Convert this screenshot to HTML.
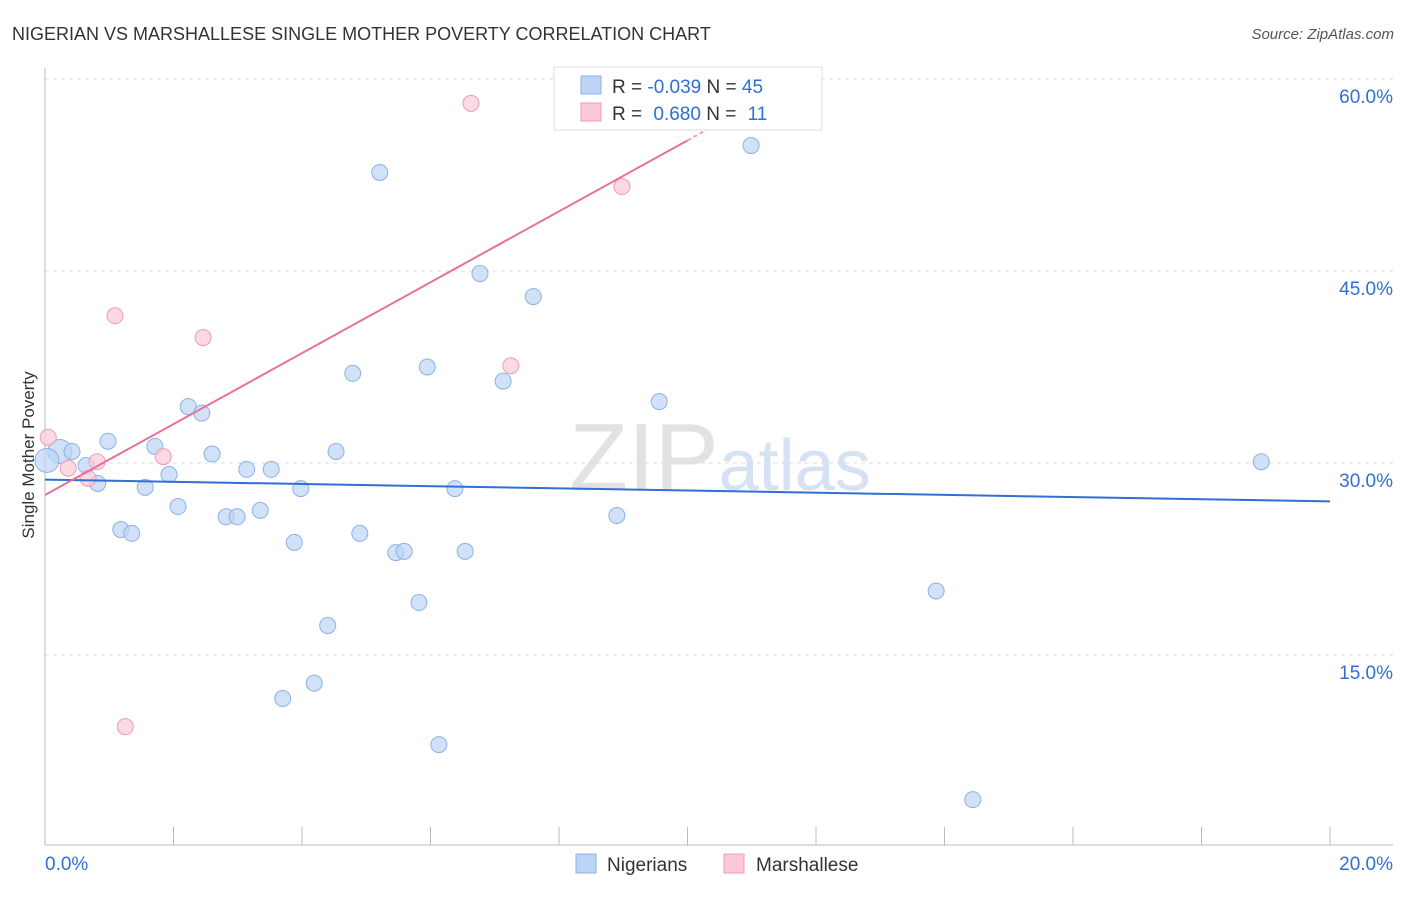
<!DOCTYPE html>
<html><head><meta charset="utf-8"><style>
body{margin:0;background:#fff;font-family:"Liberation Sans",sans-serif}
svg text{font-family:"Liberation Sans",sans-serif}
</style></head><body>
<svg id="chart" width="1406" height="892" xmlns="http://www.w3.org/2000/svg">
<text x="12" y="40" font-size="18" fill="#333">NIGERIAN VS MARSHALLESE SINGLE MOTHER POVERTY CORRELATION CHART</text>
<text x="1394" y="39" font-size="15" fill="#555" text-anchor="end" font-style="italic">Source: ZipAtlas.com</text>
<text x="720" y="490" font-size="96" text-anchor="middle" fill="#e2e2e2" font-family="Liberation Serif">ZIP<tspan fill="#d4e2f4" font-family="Liberation Sans" font-size="72">atlas</tspan></text>
<g id="grid"></g>
<g id="axes"></g>
<g id="marks"></g>
<text transform="translate(34,455) rotate(-90)" font-size="17" fill="#333" text-anchor="middle">Single Mother Poverty</text>
<g>
<rect x="554" y="67" width="268" height="63" fill="#fff" stroke="#ddd"/>
<rect x="581" y="76" width="20" height="18" fill="#bcd4f5" stroke="#8db1e6"/>
<rect x="581" y="103" width="20" height="18" fill="#fcc9d7" stroke="#f19ab4"/>
<text x="612" y="93" font-size="19" fill="#333">R = <tspan fill="#2f6fd6">-0.039</tspan>   N = <tspan fill="#2f6fd6">45</tspan></text>
<text x="612" y="120" font-size="19" fill="#333">R =  <tspan fill="#2f6fd6" dx="6">0.680</tspan>   N =  <tspan fill="#2f6fd6" dx="6">11</tspan></text>
</g>
<g>
<rect x="576" y="854" width="20" height="19" fill="#bcd4f5" stroke="#8db1e6"/>
<text x="607" y="871" font-size="19" fill="#333">Nigerians</text>
<rect x="724" y="854" width="20" height="19" fill="#fcc9d7" stroke="#f19ab4"/>
<text x="756" y="871" font-size="19" fill="#333">Marshallese</text>
</g>
</svg>
<script>
const xTicks=[0,2,4,6,8,10,12,14,16,18,20];
const yTicks=[15,30,45,60];
const blueX=[0.23,0.42,0.64,0.82,0.98,1.18,1.35,1.56,1.71,1.93,2.07,2.23,2.44,2.60,2.82,2.99,3.14,3.35,3.52,3.70,3.88,3.98,4.19,4.40,4.53,4.79,4.90,5.21,5.46,5.59,5.82,5.95,6.13,6.38,6.54,6.77,7.13,7.60,8.90,9.56,10.99,13.87,14.44,18.93,0.03];
const blueY=[30.9,30.9,29.8,28.4,31.7,24.8,24.5,28.1,31.3,29.1,26.6,34.4,33.9,30.7,25.8,25.8,29.5,26.3,29.5,11.6,23.8,28.0,12.8,17.3,30.9,37.0,24.5,52.7,23.0,23.1,19.1,37.5,8.0,28.0,23.1,44.8,36.4,43.0,25.9,34.8,54.8,20.0,3.7,30.1,30.2];
const pinkX=[0.05,0.36,0.67,0.81,1.09,1.25,1.84,2.46,6.63,7.25,8.98];
const pinkY=[32.0,29.6,28.8,30.1,41.5,9.4,30.5,39.8,58.1,37.6,51.6];
const blueTrend=[28.7,27.0];
const pinkTrend=[27.5,2.77];
const NS="http://www.w3.org/2000/svg";
const X=v=>45+v/20*1285, Y=v=>847-v*12.8;
function mk(t,a,p){const e=document.createElementNS(NS,t);for(const k in a)e.setAttribute(k,a[k]);p.appendChild(e);return e;}
const grid=document.getElementById('grid'),axes=document.getElementById('axes'),marks=document.getElementById('marks');
yTicks.forEach(v=>{const l=mk('line',{x1:45,x2:1393,y1:Y(v),y2:Y(v),stroke:'#ddd','stroke-dasharray':'4,4'},grid);

const t=mk('text',{x:1393,y:Y(v)+24,'font-size':19,fill:'#2f6fd6','text-anchor':'end'},axes);t.textContent=v.toFixed(1)+'%';
});
mk('line',{x1:45,x2:45,y1:68,y2:845,stroke:'#bbb'},axes);
mk('line',{x1:45,x2:1393,y1:845,y2:845,stroke:'#bbb'},axes);
xTicks.forEach(v=>{const l=mk('line',{x1:X(v),x2:X(v),y1:827,y2:845,stroke:'#bbb'},axes);
});
let t=mk('text',{x:45,y:870,'font-size':19,fill:'#2f6fd6'},axes);t.textContent=xTicks[0].toFixed(1)+'%';

t=mk('text',{x:1393,y:870,'font-size':19,fill:'#2f6fd6','text-anchor':'end'},axes);t.textContent=xTicks[xTicks.length-1].toFixed(1)+'%';

blueX.forEach((x,i)=>{const c=mk('circle',{cx:X(x),cy:Y(blueY[i]),r:(i==0||i==44)?12:8,fill:'#bcd4f5','fill-opacity':0.7,stroke:'#8db1e6'},marks);
});
pinkX.forEach((x,i)=>{const c=mk('circle',{cx:X(x),cy:Y(pinkY[i]),r:8,fill:'#fcc9d7','fill-opacity':0.7,stroke:'#f19ab4'},marks);
});
let l=mk('line',{x1:X(0),y1:Y(blueTrend[0]),x2:X(20),y2:Y(blueTrend[1]),stroke:'#2f6fd6','stroke-width':2},marks);

l=mk('line',{x1:X(0),y1:Y(pinkTrend[0]),x2:X(10),y2:Y(pinkTrend[0]+pinkTrend[1]*10),stroke:'#e8709a','stroke-width':2},marks);

l=mk('line',{x1:X(10),y1:Y(pinkTrend[0]+pinkTrend[1]*10),x2:X(10.5),y2:Y(pinkTrend[0]+pinkTrend[1]*10.5),stroke:'#f0a0bc','stroke-width':2,'stroke-dasharray':'4,3'},marks);

</script>
</body></html>
